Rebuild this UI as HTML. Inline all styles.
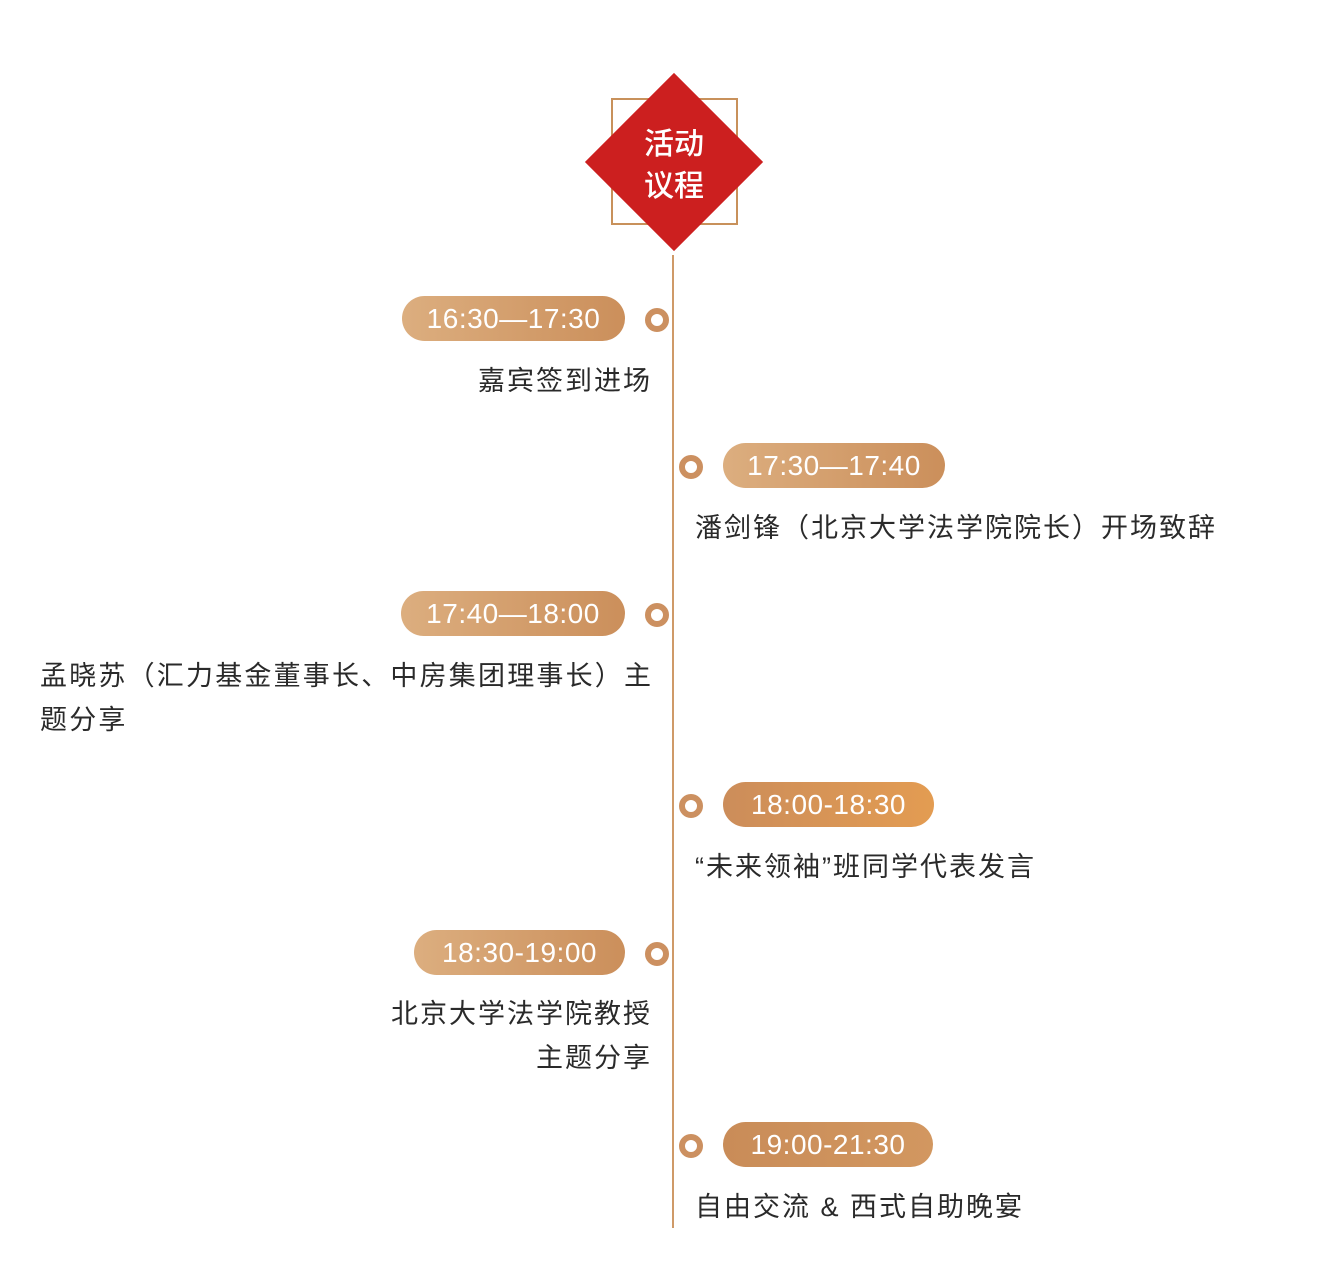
<!DOCTYPE html>
<html><head><meta charset="utf-8"><style>
body{margin:0;width:1320px;height:1270px;background:#fff;position:relative;overflow:hidden;font-family:"Liberation Sans","Noto Sans CJK SC",sans-serif}
.a{position:absolute}
.line{left:672px;top:255px;width:2px;height:973px;background:#cf9a68}
.sq{left:611px;top:98px;width:123px;height:123px;border:2px solid #c8915b}
.dia{left:611px;top:99px;width:126px;height:126px;background:#cc1f1f;transform:rotate(45deg)}
.ttl{left:604px;top:124px;width:140px;text-align:center;color:#fff;font-size:30px;line-height:42px;font-weight:500}
.pill{height:45px;border-radius:23px;color:#fff;font-size:28px;line-height:45px;text-align:center;background:linear-gradient(90deg,#dcae7f,#cb8f5b);letter-spacing:0.5px}
.p4{background:linear-gradient(90deg,#cc8d5a,#e39c52)}
.p6{background:linear-gradient(90deg,#c98c58,#d29760)}
.dot{width:12px;height:12px;border-radius:50%;border:6px solid #cc9060;background:#fff}
.t{color:#2a2a2a;font-size:27px;letter-spacing:2px;line-height:44px;white-space:nowrap}
</style></head><body>
<div class="a line"></div>
<div class="a sq"></div>
<div class="a dia"></div>
<div class="a ttl">活动<br>议程</div>

<div class="a pill" style="left:402px;top:296px;width:223px">16:30—17:30</div>
<div class="a dot" style="left:645px;top:308px"></div>
<div class="a t" style="right:668px;top:359px">嘉宾签到进场</div>

<div class="a pill" style="left:723px;top:443px;width:222px">17:30—17:40</div>
<div class="a dot" style="left:679px;top:455px"></div>
<div class="a t" style="left:695px;top:506px">潘剑锋（北京大学法学院院长）开场致辞</div>

<div class="a pill" style="left:401px;top:591px;width:224px">17:40—18:00</div>
<div class="a dot" style="left:645px;top:603px"></div>
<div class="a t" style="left:40px;top:654px;letter-spacing:2.2px">孟晓苏（汇力基金董事长、中房集团理事长）主<br>题分享</div>

<div class="a pill p4" style="left:723px;top:782px;width:211px">18:00-18:30</div>
<div class="a dot" style="left:679px;top:794px"></div>
<div class="a t" style="left:695px;top:845px">“未来领袖”班同学代表发言</div>

<div class="a pill" style="left:414px;top:930px;width:211px">18:30-19:00</div>
<div class="a dot" style="left:645px;top:942px"></div>
<div class="a t" style="right:668px;top:992px;text-align:right">北京大学法学院教授<br>主题分享</div>

<div class="a pill p6" style="left:723px;top:1122px;width:210px">19:00-21:30</div>
<div class="a dot" style="left:679px;top:1134px"></div>
<div class="a t" style="left:695px;top:1185px">自由交流 &amp; 西式自助晚宴</div>
</body></html>
